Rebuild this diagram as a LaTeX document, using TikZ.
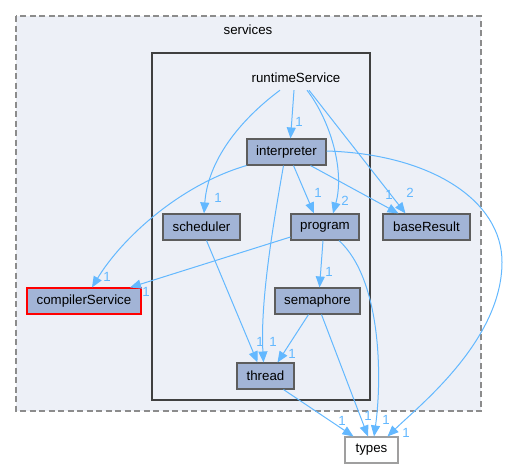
\documentclass[tikz,border=0pt]{standalone}
\usepackage{fontspec}
\setmainfont{Liberation Sans}
\usetikzlibrary{arrows.meta}
\definecolor{bgc}{HTML}{EDF0F7}
\definecolor{nodec}{HTML}{A2B4D6}
\definecolor{edgec}{HTML}{63B8FF}
\definecolor{bord}{HTML}{404040}
\definecolor{dashc}{HTML}{8C8C8C}
\tikzset{
  dirbox/.style={draw=bord!85, line width=1.1pt, fill=nodec, inner sep=0pt, minimum height=26pt, font=\fontsize{13.3}{15}\selectfont},
  extbox/.style={draw=gray!75, line width=1.1pt, fill=white!97!bgc, inner sep=0pt, minimum height=26pt, font=\fontsize{13.3}{15}\selectfont},
  txt/.style={inner sep=0pt, font=\fontsize{13.3}{15}\selectfont},
  edge/.style={draw=edgec, line width=1pt, -{Triangle[length=11pt,width=9pt]}},
  lbl/.style={text=edgec, inner sep=0pt, font=\fontsize{13.3}{15}\selectfont}
}
\begin{document}
\begin{tikzpicture}[x=1pt,y=-1pt]
\useasboundingbox (0,0) rectangle (508,469);
% clusters
\draw[dashc, line width=1.2pt, dash pattern=on 6pt off 3.5pt, fill=bgc] (16,16) rectangle (481,411);
\node[txt] (svc) at (248,30) {services};
\draw[bord, line width=2.2pt, fill=bgc] (152,53) rectangle (370,400);
\node[txt, minimum height=24pt] (rs) at (296,78) {runtimeService};
% nodes
\node[dirbox, minimum width=79pt] (int) at (286.5,152) {interpreter};
\node[dirbox, minimum width=77pt] (sch) at (201.5,227) {scheduler};
\node[dirbox, minimum width=68pt] (prog) at (325,227) {program};
\node[dirbox, minimum width=87pt] (br) at (426.5,227) {baseResult};
\node[dirbox, draw=red, minimum width=114pt] (cs) at (84,301) {compilerService};
\node[dirbox, minimum width=85pt] (sem) at (317.5,301) {semaphore};
\node[dirbox, minimum width=57pt] (th) at (265.5,376) {thread};
\node[extbox, minimum width=53pt] (ty) at (371.5,450) {types};
% edges
\draw[edge] ([xshift=-2pt]rs.south) -- ([xshift=4pt]int.north);
\draw[edge] ([xshift=-16pt]rs.south) .. controls (240,120) and (208,160) .. ([xshift=2.5pt]sch.north);
\draw[edge] ([xshift=11pt]rs.south) .. controls (330,120) and (345,170) .. ([xshift=8pt]prog.north);
\draw[edge] ([xshift=13pt]rs.south) -- ([xshift=-21pt]br.north);
\draw[edge] ([xshift=7pt]int.south) -- ([xshift=-11pt]prog.north);
\draw[edge] ([xshift=24pt]int.south) -- ([xshift=-28pt]br.north);
\draw[edge] (int.south west) .. controls (180,185) and (122,238) .. ([xshift=8pt]cs.north);
\draw[edge] ([xshift=-3pt]int.south) .. controls (274,220) and (260,300) .. ([xshift=-2pt]th.north);
\draw[edge] ([yshift=1pt]int.east) .. controls (430,154) and (502,200) .. (502,262) .. controls (502,340) and (420,405) .. ([xshift=16pt]ty.north);
\draw[edge] ([xshift=5pt]sch.south) -- ([xshift=-8pt]th.north);
\draw[edge] ([yshift=-10pt]prog.west) -- ([xshift=46pt]cs.north);
\draw[edge] ([xshift=-2pt]prog.south) -- ([xshift=2pt]sem.north);
\draw[edge] ([xshift=14pt]prog.south) .. controls (382,280) and (382,380) .. ([xshift=2.5pt]ty.north);
\draw[edge] ([xshift=-9pt]sem.south) -- ([xshift=12pt]th.north);
\draw[edge] ([xshift=4pt]sem.south) -- ([xshift=-3.5pt]ty.north);
\draw[edge] ([xshift=18pt]th.south) -- ([xshift=-18pt]ty.north);
% labels
\node[lbl] (l1) at (299,122) {1};
\node[lbl] (l2) at (218,198) {1};
\node[lbl] (l3) at (345,201) {2};
\node[lbl] (l4) at (410,193) {2};
\node[lbl] (l5) at (318,193) {1};
\node[lbl] (l6) at (389,195) {1};
\node[lbl] (l7) at (107,277) {1};
\node[lbl] (l8) at (146,292) {1};
\node[lbl] (l9) at (329,272) {1};
\node[lbl] (l10) at (260,342) {1};
\node[lbl] (l11) at (273,342) {1};
\node[lbl] (l12) at (292,354) {1};
\node[lbl] (l13) at (342,421) {1};
\node[lbl] (l14) at (368,416) {1};
\node[lbl] (l15) at (386,420) {1};
\node[lbl] (l16) at (406,433) {1};
\end{tikzpicture}
\end{document}
